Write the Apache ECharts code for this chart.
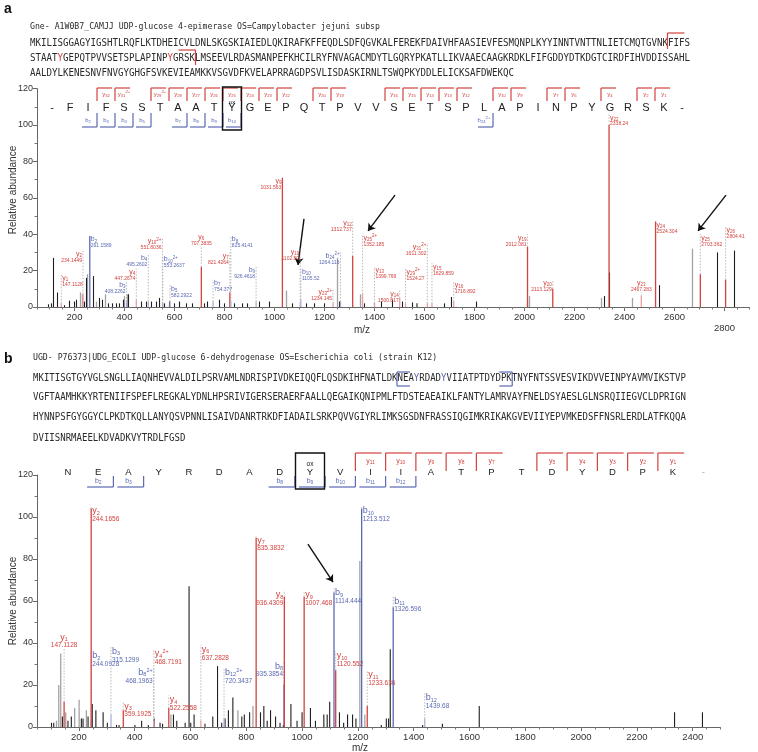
<!DOCTYPE html>
<html><head><meta charset="utf-8">
<script src="https://cdn.jsdelivr.net/npm/echarts@6/dist/echarts.min.js"></script>
<style>html,body{margin:0;padding:0;background:#fff}#c{width:758px;height:752px}</style>
</head><body><div id="c"></div>
<script>
// ===================== DATA =====================
// ---- panel a ----
const aHeader = 'Gne- A1W0B7_CAMJJ UDP-glucose 4-epimerase OS=Campylobacter jejuni subsp';
const aSeqLines = [
  'MKILISGGAGYIGSHTLRQFLKTDHEICVLDNLSKGSKIAIEDLQKIRAFKFFEQDLSDFQGVKALFEREKFDAIVHFAASIEVFESMQNPLKYYINNTVNTTNLIETCMQTGVNKFIFS',
  'STAATYGEPQTPVVSETSPLAPINPYGRSKLMSEEVLRDASMANPEFKHCILRYFNVAGACMDYTLGQRYPKATLLIKVAAECAAGKRDKLFIFGDDYDTKDGTCIRDFIHVDDISSAHL',
  'AALDYLKENESNVFNVGYGHGFSVKEVIEAMKKVSGVDFKVELAPRRAGDPSVLISDASKIRNLTSWQPKYDDLELICKSAFDWEKQC'
];
const aSeqMarked = [[1,5],[1,25]];          // [line, char] coloured residues
const aPeptide = ['-','F','I','F','S','S','T','A','A','T','Y','G','E','P','Q','T','P','V','V','S','E','T','S','P','L','A','P','I','N','P','Y','G','R','S','K','-'];
const aYBrackets = [[3,32,''],[4,31,'2+'],[6,29,'2+'],[7,28,''],[8,27,''],[9,26,''],[10,25,''],[11,24,''],[12,23,''],[13,22,''],[15,20,''],[16,19,''],[19,16,''],[20,15,''],[21,14,''],[22,13,''],[23,12,''],[25,10,''],[26,9,''],[28,7,''],[29,6,''],[31,4,''],[33,2,''],[34,1,'']];
const aBBrackets = [[2,2,''],[3,3,''],[4,4,''],[5,5,''],[7,7,''],[8,8,''],[9,9,''],[10,10,''],[24,24,'2+']];
const aOxIndex = 10;
// [ion, number, charge, m/z, peak height, label height]
const aIons = [
  ['y',1,'','147.1128',2,18],['y',2,'','234.1449',7,31],['b',2,'','261.1589',39,39],['b',3,'','408.2262',3,14],
  ['y',4,'','447.2674',4,21],['b',4,'','495.2602',3,29],['y',10,'2+','551.8036',2,38],['b',10,'2+','553.2637',2,28],
  ['b',5,'','582.2922',3,12],['y',6,'','707.3835',22,33],['b',7,'','754.377',3,15],['y',7,'','821.4264',8,30],
  ['b',8,'','825.4141',3,39],['b',9,'','926.4618',3,22],['y',9,'','1031.563',71,71],['y',10,'','1102.59',2,32],
  ['b',10,'','1105.52',4,21],['y',23,'2+','1234.145',2,10],['b',24,'2+','1264.116',3,30],['y',12,'','1312.737',28,48],
  ['y',25,'2+','1352.185',7,40],['y',13,'','1399.769',2,22],['y',14,'','1500.817',5,9],['y',29,'2+','1524.27',2,21],
  ['y',31,'2+','1611.302',2,35],['y',15,'','1629.859',2,24],['y',16,'','1716.892',3,14],['y',19,'','2012.081',33,40],
  ['y',20,'','2113.129',10,15],['y',22,'','2338.24',100,106],['y',23,'','2467.283',6,8],['y',24,'','2524.304',47,47],
  ['y',25,'','2703.362',18,40],['y',26,'','2804.41',15,44]
];
const aIonSide = ['l','r','l','r','r','r','r','l','l','c','l','r','l','r','r','r','l','r','r','r','l','l','r','l','r','l','l','r','r','l','c','l','l','l'];
const aBlackPeaks = [[96,1.5],[108,2],[116,27],[132,8],[160,1],[180,3.5],[200,3],[208,4],[240,3],[248,16],[276,17],[300,5],[312,4],[336,2],[352,2],[368,2],[380,2],[396,4],[416,7],[468,3],[488,3],[508,3],[528,3],[540,5],[560,2],[580,3],[600,2],[620,3],[648,2],[672,2],[720,2],[732,3],[780,4],[800,2],[840,2],[872,2],[892,2],[940,3],[980,3],[1072,2],[1128,2],[1160,2],[1200,2],[1260,3],[1360,2],[1400,2],[1428,3],[1472,4],[1512,3],[1552,2.5],[1570,2],[1680,2],[1708,5.5],[1808,3],[2012,3],[2320,6],[2340,19],[2540,12],[2772,30],[2840,31]];
const aGrayPeaks = [[224,8],[232,7],[252,18],[288,3],[324,7],[400,6],[412,7],[1048,9],[1252,27],[1344,7],[2020,6],[2308,5],[2432,5],[2672,32]];
const aXTicks = [200,400,600,800,1000,1200,1400,1600,1800,2000,2200,2400,2600,2800];
const aArrows = [[[1118,48.4],[1094,23.1]],[[1482,61.5],[1374,41.8]],[[2806,61.5],[2694,41.8]]];

// ---- panel b ----
const bHeader = 'UGD- P76373|UDG_ECOLI UDP-glucose 6-dehydrogenase OS=Escherichia coli (strain K12)';
const bSeqLines = [
  'MKITISGTGYVGLSNGLLIAQNHEVVALDILPSRVAMLNDRISPIVDKEIQQFLQSDKIHFNATLDKNEAYRDADYVIIATPTDYDPKTNYFNTSSVESVIKDVVEINPYAVMVIKSTVP',
  'VGFTAAMHKKYRTENIIFSPEFLREGKALYDNLHPSRIVIGERSERAERFAALLQEGAIKQNIPMLFTDSTEAEAIKLFANTYLAMRVAYFNELDSYAESLGLNSRQIIEGVCLDPRIGN',
  'HYNNPSFGYGGYCLPKDTKQLLANYQSVPNNLISAIVDANRTRKDFIADAILSRKPQVVGIYRLIMKSGSDNFRASSIQGIMKRIKAKGVEVIIYEPVMKEDSFFNSRLERDLATFKQQA',
  'DVIISNRMAEELKDVADKVYTRDLFGSD'
];
const bSeqMarked = [[0,70],[0,75]];
const bPeptide = ['N','E','A','Y','R','D','A','D','Y','V','I','I','A','T','P','T','D','Y','D','P','K','-'];
const bYBrackets = [[10,11,''],[11,10,''],[12,9,''],[13,8,''],[14,7,''],[16,5,''],[17,4,''],[18,3,''],[19,2,''],[20,1,'']];
const bBBrackets = [[1,2,''],[2,3,''],[7,8,''],[8,9,''],[9,10,''],[10,11,''],[11,12,'']];
const bOxIndex = 8;
const bIons = [
  ['y',1,'','147.1128',12,37],['b',2,'','244.0928',3,36],['y',2,'','244.1656',104,105],['b',3,'','315.1299',6,38],
  ['y',3,'','359.1925',8,12],['b',8,'2+','468.1963',3,28],['y',4,'2+','468.7191',3,37],['y',4,'','522.2558',9,15],
  ['y',6,'','637.2828',3,39],['b',12,'2+','720.3437',4,28],['y',7,'','835.3832',90,91],['b',8,'','935.3854',20,31],
  ['y',8,'','936.4309',62,65],['y',9,'','1007.468',62,65],['b',9,'','1114.444',64,66],['y',10,'','1120.552',27,36],
  ['b',10,'','1213.512',104,105],['y',11,'','1233.636',10,27],['b',11,'','1326.596',57,62],['b',12,'','1439.68',4,16]
];
const bIonSide = ['c','l','l','l','l','r','l','l','l','l','l','r','r','l','l','l','l','l','l','l'];
const bBlackPeaks = [[102,2],[110,2],[141,5],[161,3],[173,5],[209,4],[215,4],[233,5],[248,11],[261,8],[287,7],[302,2],[335,1],[344,1],[401,1],[425,3],[449,1],[470,4],[491,2],[500,1.5],[539,6],[551,3],[581,2],[595,67],[601,2],[613,6],[652,1.5],[680,5],[697,29],[712,2],[724,4],[736,8],[752,14],[784,5],[793,6],[812,7],[851,7],[863,10],[875,3],[887,8],[905,5],[921,2],[933,1],[960,11],[982,3],[1000,7],[1030,9],[1048,3],[1078,6],[1090,6],[1099,12],[1134,7],[1149,2],[1163,6],[1181,6],[1193,4],[1284,1],[1302,4],[1310,4],[1316,37],[1432,1],[1503,1.5],[1635,10],[2335,7],[2435,7]];
const bGrayPeaks = [[120,3],[128,20],[135,35],[153,7],[185,9],[201,13],[227,8],[530,6],[770,8],[824,10],[1207,79],[1225,6]];
const bXTicks = [200,400,600,800,1000,1200,1400,1600,1800,2000,2200,2400];
const bArrows = [[[1021,87.1],[1111,69.0]]];
const yTicks = [0,20,40,60,80,100,120];

// ===================== RENDER =====================
const SANS = '"Liberation Sans", Arial, Helvetica, sans-serif';
const MONO = '"DejaVu Sans Mono", monospace';
const RED = '#d2423e', PINK = '#e9a0a0', BLUE = '#5b69b3', LBLUE = '#a9b1da';
const chart = echarts.init(document.getElementById('c'));

function minorOf(ticks, lo, hi){ const out=[]; for(let v=lo; v<=hi; v+=50) out.push(v); return out; }

function ionText(d){ return '{n|'+d[0]+'}{s|'+d[1]+'}'+(d[2]?'{p|'+d[2]+'}':'')+'\n{m|'+d[3]+'}'; }

function peakSeries(xi, yi, data, color, w, extra){
  return Object.assign({
    type:'custom', coordinateSystem:'cartesian2d', xAxisIndex:xi, yAxisIndex:yi, silent:true, animation:false,
    data:data, encode:{x:0,y:1},
    renderItem:function(p, api){
      const a = api.coord([api.value(0),0]), b = api.coord([api.value(0),api.value(1)]);
      return {type:'line', shape:{x1:a[0],y1:a[1],x2:b[0],y2:b[1]}, style:{stroke:color, lineWidth:w}};
    }
  }, extra||{});
}

function ionSeries(xi, yi, ions, sides, fs){
  const rich = function(col){ return {
    n:{fontSize:fs.n, fontFamily:SANS, fill:col, lineHeight:fs.n},
    s:{fontSize:fs.s, fontFamily:SANS, fill:col, padding:[fs.s*0.8,0,0,0], lineHeight:fs.n},
    p:{fontSize:fs.s, fontFamily:SANS, fill:col, padding:[0,0,fs.s*0.9,0], lineHeight:fs.n},
    m:{fontSize:fs.m, fontFamily:SANS, fill:col, lineHeight:fs.m+1}
  };};
  return {
    type:'custom', coordinateSystem:'cartesian2d', xAxisIndex:xi, yAxisIndex:yi, silent:true, animation:false, z:5,
    data: ions.map(function(d,i){ return [parseFloat(d[3]), d[4], d[5], i]; }),
    encode:{x:0,y:1},
    renderItem:function(p, api){
      const i = api.value(3), d = ions[i], side = sides[i];
      const mz = api.value(0), pk = api.value(1), lb = api.value(2);
      const p0 = api.coord([mz,0]), p1 = api.coord([mz,pk]), p2 = api.coord([mz,lb]);
      const strong = pk >= 8;
      const col = d[0]==='y' ? RED : BLUE;
      const lcol = d[0]==='y' ? (strong?RED:PINK) : (strong?BLUE:LBLUE);
      const ch = [];
      ch.push({type:'line', shape:{x1:p0[0],y1:p0[1],x2:p1[0],y2:p1[1]}, style:{stroke:lcol, lineWidth:1.3}});
      if (lb > pk) ch.push({type:'line', shape:{x1:p1[0],y1:p1[1],x2:p2[0],y2:p2[1]}, style:{stroke:'#a8a8a8', lineWidth:0.8, lineDash:[1.5,1.5]}});
      let tx = p2[0], al = 'center', va = 'bottom';
      if (side==='l'){ tx = p2[0]+1; al='left'; va='top'; }
      else if (side==='r'){ tx = p2[0]-1; al='right'; va='top'; }
      ch.push({type:'text', x:tx, y:p2[1], style:{text:ionText(d), rich:rich(col), align:al, verticalAlign:va, fill:col}});
      return {type:'group', children:ch};
    }
  };
}

function arrowLine(list){
  return {silent:true, animation:false, symbol:['none','arrow'], symbolSize:7, label:{show:false},
    lineStyle:{color:'#111', width:1.4, type:'solid'},
    data:list.map(function(a){ return [{coord:a[0]},{coord:a[1]}]; })};
}

// ---------- graphic (sequence, peptide map) ----------
const G = [];
function T(x,y,text,style,extra){ G.push(Object.assign({type:'text', x:x, y:y, silent:true, style:Object.assign({text:text}, style)}, extra||{})); }
function L(x1,y1,x2,y2,color,w){ G.push({type:'line', silent:true, shape:{x1:x1,y1:y1,x2:x2,y2:y2}, style:{stroke:color, lineWidth:w||1}}); }

function seqBlock(lines, marked, markCol, x0, ys, cw){
  lines.forEach(function(s, li){
    let txt = '', buf = '';
    for (let k=0;k<s.length;k++){
      const isM = marked.some(function(m){ return m[0]===li && m[1]===k; });
      if (isM){ if(buf){txt+='{k|'+buf+'}'; buf='';} txt+='{r|'+s[k]+'}'; }
      else buf += s[k];
    }
    if (buf) txt += '{k|'+buf+'}';
    T(x0, ys[li], txt, {verticalAlign:'middle', rich:{
      k:{fontFamily:MONO, fontSize:10, fill:'#2a2a2a'},
      r:{fontFamily:MONO, fontSize:10, fill:markCol}}}, {scaleX: cw/6.02});
  });
}

// panel a labels
T(4, 9, 'a', {font:'bold 14px '+SANS, fill:'#111', verticalAlign:'middle'});
T(30, 27, aHeader, {font:'8.2px '+MONO, fill:'#2a2a2a', verticalAlign:'middle'});
seqBlock(aSeqLines, aSeqMarked, RED, 30, [43,58,73], 5.5);
// sequence brackets a
(function(){ const x = 30+116*5.5 - 0.5; L(x,33,x,49,RED,1.2); L(x,33,x+17,33,RED,1.2);
  const x2 = 30+30*5.5 + 0.5; L(x2,50,x2,65,RED,1.2); L(x2-17,50,x2,50,RED,1.2); })();

function peptideMap(pep, yb, bb, ox, cfg){
  pep.forEach(function(a,i){
    const cx = cfg.x0 + i*cfg.sp;
    T(cx, cfg.cy, a, {font:cfg.fs+'px '+SANS, fill:(a==='-'&&cfg.dashLight&&i>0)?'#aaa':'#222', align:'center', verticalAlign:'middle'});
  });
  const richY = {n:{fontSize:cfg.ls, fontFamily:SANS, fill:RED}, s:{fontSize:cfg.ls*0.7, fontFamily:SANS, fill:RED, padding:[cfg.ls*0.5,0,0,0]}, p:{fontSize:cfg.ls*0.7, fontFamily:SANS, fill:RED, padding:[0,0,cfg.ls*0.6,0]}};
  const richB = {n:{fontSize:cfg.ls, fontFamily:SANS, fill:BLUE}, s:{fontSize:cfg.ls*0.7, fontFamily:SANS, fill:BLUE, padding:[cfg.ls*0.5,0,0,0]}, p:{fontSize:cfg.ls*0.7, fontFamily:SANS, fill:BLUE, padding:[0,0,cfg.ls*0.6,0]}};
  yb.forEach(function(b){
    const cx = cfg.x0 + b[0]*cfg.sp, xl = cx - cfg.sp/2;
    L(xl, cfg.yTop, xl, cfg.yBot, RED, 1.2);
    L(xl, cfg.yTop, cx + cfg.sp/2 - cfg.gap, cfg.yTop, RED, 1.2);
    T(cx, cfg.yLab, '{n|y}{s|'+b[1]+'}'+(b[2]?'{p|'+b[2]+'}':''), {rich:richY, align:'center', verticalAlign:'middle'});
  });
  bb.forEach(function(b){
    const cx = cfg.x0 + b[0]*cfg.sp, xr = cx + cfg.sp/2;
    L(xr, cfg.bTop, xr, cfg.bBot, BLUE, 1.2);
    L(cx - cfg.sp/2 + cfg.gap, cfg.bBot, xr, cfg.bBot, BLUE, 1.2);
    T(cx, cfg.bLab, '{n|b}{s|'+b[1]+'}'+(b[2]?'{p|'+b[2]+'}':''), {rich:richB, align:'center', verticalAlign:'middle'});
  });
  const ocx = cfg.x0 + ox*cfg.sp;
  G.push({type:'rect', silent:true, shape:{x:ocx-cfg.boxW/2, y:cfg.boxTop, width:cfg.boxW, height:cfg.boxH}, style:{fill:'transparent', stroke:'#111', lineWidth:1.4}});
  T(ocx, cfg.oxY, 'ox', {font:cfg.oxFs+'px '+SANS, fill:'#111', align:'center', verticalAlign:'middle'});
}
peptideMap(aPeptide, aYBrackets, aBBrackets, aOxIndex, {x0:52, sp:18, cy:108, fs:11, ls:6, yTop:88, yBot:101, yLab:94, bTop:113, bBot:127, bLab:120, gap:3, boxW:19, boxTop:87, boxH:43, oxY:102, oxFs:6});

// panel b labels
T(4, 359, 'b', {font:'bold 14px '+SANS, fill:'#111', verticalAlign:'middle'});
T(33, 358, bHeader, {font:'8.2px '+MONO, fill:'#2a2a2a', verticalAlign:'middle'});
seqBlock(bSeqLines, bSeqMarked, BLUE, 33, [378,397,417,438], 5.44);
(function(){ const x = 33+67*5.44 - 0.5; L(x,372,x,386,BLUE,1.2); L(x,372,x+13,372,BLUE,1.2); L(x,386,x+13,386,BLUE,1.2);
  const x2 = 33+88*5.44 + 0.5; L(x2,372,x2,386,BLUE,1.2); L(x2-13,372,x2,372,BLUE,1.2); L(x2-13,386,x2,386,BLUE,1.2); })();
peptideMap(bPeptide, bYBrackets, bBBrackets, bOxIndex, {x0:68, sp:30.25, cy:472, fs:9.5, ls:7, dashLight:true, yTop:453, yBot:471, yLab:461, bTop:476, bBot:487, bLab:481, gap:4, boxW:29, boxTop:453, boxH:36, oxY:464, oxFs:6.5});

// axis names
T(13, 190, 'Relative abundance', {font:'10px '+SANS, fill:'#333', align:'center', verticalAlign:'middle'}, {rotation:Math.PI/2});
T(13, 601, 'Relative abundance', {font:'10px '+SANS, fill:'#333', align:'center', verticalAlign:'middle'}, {rotation:Math.PI/2});
T(362, 330, 'm/z', {font:'10px '+SANS, fill:'#333', align:'center', verticalAlign:'middle'});
T(360, 748, 'm/z', {font:'10px '+SANS, fill:'#333', align:'center', verticalAlign:'middle'});

// ---------- axes ----------
function xMain(grid, min, max, ticks){
  return {type:'value', gridIndex:grid, min:min, max:max, position:'bottom',
    axisLine:{show:true, onZero:false, lineStyle:{color:'#666', width:1}},
    axisTick:{show:true, length:4, customValues:ticks, lineStyle:{color:'#666'}},
    axisLabel:{show:true, customValues:ticks, fontSize:9.5, fontFamily:SANS, color:'#333', margin:5,
      formatter:function(v){ return v===2800 ? '{lo|2800}' : String(v); },
      rich:{lo:{fontSize:9.5, fontFamily:SANS, color:'#333', padding:[11,0,0,0]}}},
    splitLine:{show:false}};
}
function xMinor(grid, min, max){
  return {type:'value', gridIndex:grid, min:min, max:max, position:'bottom',
    axisLine:{show:false}, axisTick:{show:true, length:2.5, customValues:minorOf(null,min,max), lineStyle:{color:'#777'}},
    axisLabel:{show:false}, splitLine:{show:false}};
}
function yAx(grid){
  return {type:'value', gridIndex:grid, min:0, max:120, interval:20,
    axisLine:{show:true, lineStyle:{color:'#666'}}, axisTick:{show:true, length:4, lineStyle:{color:'#666'}},
    minorTick:{show:true, splitNumber:2, length:2.5, lineStyle:{color:'#777'}},
    axisLabel:{fontSize:9, fontFamily:SANS, color:'#333', margin:4}, splitLine:{show:false}};
}

chart.setOption({
  animation:false,
  backgroundColor:'#fff',
  grid:[{left:37, right:8.5, top:88.6, bottom:445}, {left:37, right:37.4, top:475, bottom:25}],
  xAxis:[xMain(0,50,2900,aXTicks), xMinor(0,50,2900), xMain(1,50,2500,bXTicks), xMinor(1,50,2500)],
  yAxis:[yAx(0), yAx(1)],
  series:[
    peakSeries(0,0,aGrayPeaks,'#a3a3a3',1.3),
    peakSeries(0,0,aBlackPeaks,'#1e1e1e',1.1, {markLine:arrowLine(aArrows)}),
    ionSeries(0,0,aIons,aIonSide,{n:7,s:4.5,m:5}),
    peakSeries(2,1,bGrayPeaks,'#a3a3a3',1.3),
    peakSeries(2,1,bBlackPeaks,'#1e1e1e',1.1, {markLine:arrowLine(bArrows)}),
    ionSeries(2,1,bIons,bIonSide,{n:9,s:5.5,m:6.5})
  ],
  graphic:G
});
</script>
</body></html>
